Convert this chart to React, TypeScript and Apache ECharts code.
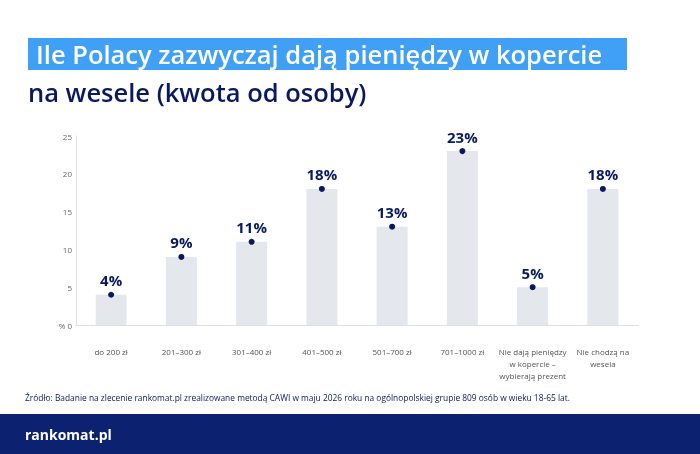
import React, { useEffect, useRef } from 'react';
import * as echarts from 'echarts';

const categories = ['do 200 zł', '201–300 zł', '301–400 zł', '401–500 zł', '501–700 zł', '701–1000 zł', 'Nie dają pieniędzy\nw kopercie –\nwybierają prezent', 'Nie chodzą na\nwesela'];
const values = [4, 9, 11, 18, 13, 23, 5, 18];
const yTicks = [0, 5, 10, 15, 20, 25];

const NAVY = '#08195e';
const FONT = '"Open Sans", "Noto Sans", sans-serif';

const App: React.FC = () => {
  const chartRef = useRef<HTMLDivElement>(null);
  useEffect(() => {
    if (!chartRef.current) return;
    const chart = echarts.init(chartRef.current, undefined, { renderer: 'svg' });
    chart.setOption({
      animation: false,
      textStyle: { fontFamily: FONT },
      graphic: [
        { type: 'rect', shape: { x: 28, y: 38, width: 599, height: 32 }, style: { fill: '#3fa0f5' } },
        { type: 'text', x: 36, y: 54, style: { text: 'Ile Polacy zazwyczaj dają pieniędzy w kopercie', fill: '#fff', font: `600 25.5px ${FONT}`, verticalAlign: 'middle' } },
        { type: 'text', x: 28, y: 92, style: { text: 'na wesele (kwota od osoby)', fill: NAVY, font: `600 25.5px ${FONT}`, verticalAlign: 'middle' } },
        { type: 'text', x: 25, y: 397, style: { text: 'Źródło: Badanie na zlecenie rankomat.pl zrealizowane metodą CAWI w maju 2026 roku na ogólnopolskiej grupie 809 osób w wieku 18-65 lat.', fill: NAVY, font: `8.4px ${FONT}`, verticalAlign: 'middle' } },
        { type: 'rect', shape: { x: 0, y: 414, width: 700, height: 40 }, style: { fill: '#0c2270' } },
        { type: 'text', x: 25, y: 434, style: { text: 'rankomat.pl', fill: '#fff', font: `bold 14px ${FONT}`, verticalAlign: 'middle' } },
      ],
      grid: { left: 76, width: 562, top: 136, bottom: 129 },
      xAxis: {
        type: 'category',
        data: categories,
        axisLine: { show: true, lineStyle: { color: '#dde1e6' } },
        axisTick: { show: false },
        axisLabel: { color: '#555', fontSize: 8, margin: 20, lineHeight: 12, interval: 0 },
      },
      yAxis: {
        type: 'value',
        min: 0,
        max: 25,
        interval: 5,
        axisLine: { show: true, lineStyle: { color: '#dde1e6' } },
        splitLine: { show: false },
        axisLabel: {
          color: '#666', fontSize: 8, margin: 4,
          formatter: (v: number) => (v === 0 ? '% 0' : String(yTicks.includes(v) ? v : '')),
        },
      },
      series: [
        {
          type: 'bar',
          data: values,
          barWidth: 31,
          itemStyle: { color: '#e4e8ed' },
          silent: true,
        },
        {
          type: 'scatter',
          data: values,
          symbolSize: 6,
          itemStyle: { color: NAVY, opacity: 1 },
          label: { show: true, position: 'top', distance: 4, formatter: '{c}%', color: NAVY, fontSize: 15, fontWeight: 'bold' },
        },
      ],
    });
    return () => chart.dispose();
  }, []);

  return <div ref={chartRef} style={{ position: 'fixed', left: 0, top: 0, width: 700, height: 454 }} />;
};

export default App;
